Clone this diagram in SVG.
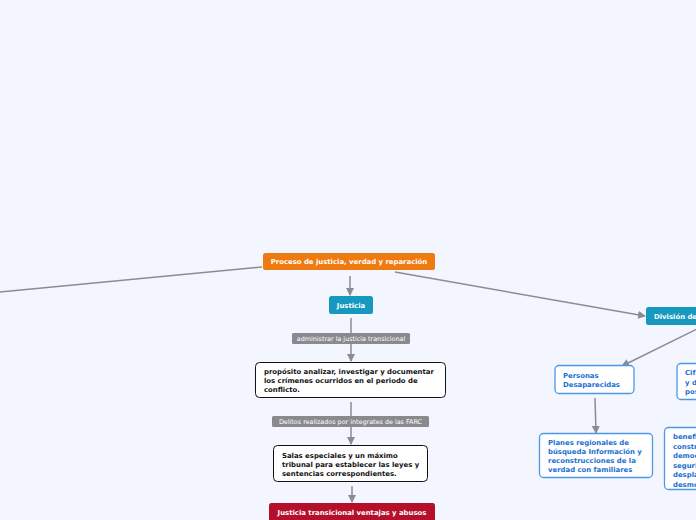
<svg xmlns="http://www.w3.org/2000/svg" width="696" height="520" viewBox="0 0 696 520">
<defs>
<marker id="arr" markerWidth="8" markerHeight="8" refX="7" refY="4" orient="auto" markerUnits="userSpaceOnUse">
<path d="M0,0 L8,4 L0,8 Z" fill="#8a8c92"/>
</marker>
<style>
.c{stroke:#8a8c92;stroke-width:1.5;fill:none}
.t{font-family:"DejaVu Sans",Verdana,sans-serif;font-weight:bold;font-size:6.9px}
.w{fill:#ffffff}
.k{fill:#111111}
.b{fill:#1a6fd1}
.lbl{font-family:"DejaVu Sans",Verdana,sans-serif;font-size:6.4px;fill:#ffffff}
.lb{fill:#8a8a8e}
.wn{fill:#ffffff;stroke:#111111;stroke-width:1}
.bn{fill:#ffffff;stroke:#4a98ea;stroke-width:1.3}
</style>
</defs>
<rect width="696" height="520" fill="#f3f6fe"/>
<g id="connectors">
<path class="c" d="M262,267 L0,292"/>
<path class="c" d="M395,272 L645,316" marker-end="url(#arr)"/>
<path class="c" d="M350,276 L350,295" marker-end="url(#arr)"/>
<path class="c" d="M351,318 L351,361" marker-end="url(#arr)"/>
<path class="c" d="M351,402 L351,444" marker-end="url(#arr)"/>
<path class="c" d="M352,486 L352,502" marker-end="url(#arr)"/>
<path class="c" d="M697,329 L622,366" marker-end="url(#arr)"/>
<path class="c" d="M595,398 L596,433" marker-end="url(#arr)"/>
</g>
<g id="lbl1"><rect class="lb" x="292" y="333" width="118" height="11" rx="1.5"/><text class="lbl" x="351" y="341" text-anchor="middle">administrar la justicia transicional</text></g>
<g id="lbl2"><rect class="lb" x="272" y="416" width="157" height="11" rx="1.5"/><text class="lbl" x="350.5" y="424" text-anchor="middle">Delitos realizados por integrates de las FARC</text></g>
<g id="n-main"><rect x="263" y="253" width="172" height="17" rx="2.5" fill="#ef7a10"/><text class="t w" x="349" y="264" text-anchor="middle">Proceso de justicia, verdad y reparación</text></g>
<g id="n-justicia"><rect x="329" y="296" width="44" height="18" rx="2.5" fill="#1799bf"/><text class="t w" x="351" y="307.5" text-anchor="middle">Justicia</text></g>
<g id="n-proposito"><rect class="wn" x="255.5" y="362.5" width="190" height="35" rx="4"/><text class="t k" x="264" y="373.5">propósito analizar, investigar y documentar</text><text class="t k" x="264" y="382.5">los crímenes ocurridos en el periodo de</text><text class="t k" x="264" y="391.5">conflicto.</text></g>
<g id="n-salas"><rect class="wn" x="273.5" y="445.5" width="154" height="36" rx="4"/><text class="t k" x="282" y="457.5">Salas especiales y un máximo</text><text class="t k" x="282" y="466.5">tribunal para establecer las leyes y</text><text class="t k" x="282" y="475.5">sentencias correspondientes.</text></g>
<g id="n-jt"><rect x="269" y="503" width="166" height="22" rx="2.5" fill="#b4102c"/><text class="t w" x="352" y="514.5" text-anchor="middle">Justicia transicional ventajas y abusos</text></g>
<g id="n-division"><rect x="646" y="307" width="70" height="18" rx="2.5" fill="#1799bf"/><text class="t w" x="654" y="318.5">División de</text></g>
<g id="n-personas"><rect class="bn" x="555" y="365.5" width="79" height="28" rx="4"/><text class="t b" x="563" y="377.5">Personas</text><text class="t b" x="563" y="387">Desaparecidas</text></g>
<g id="n-planes"><rect class="bn" x="539.5" y="433.5" width="113" height="44" rx="4"/><text class="t b" x="548" y="444.5">Planes regionales de</text><text class="t b" x="548" y="453.5">búsqueda Información y</text><text class="t b" x="548" y="462.5">reconstrucciones de la</text><text class="t b" x="548" y="471.5">verdad con familiares</text></g>
<g id="n-cif"><rect class="bn" x="677" y="363.5" width="40" height="36" rx="4"/><text class="t b" x="685" y="375">Cifras</text><text class="t b" x="685" y="384.5">y datos</text><text class="t b" x="685" y="394">posibles</text></g>
<g id="n-benef"><rect class="bn" x="664.5" y="427.5" width="52" height="62" rx="4"/><text class="t b" x="673" y="439">beneficios</text><text class="t b" x="673" y="448.5">construcción</text><text class="t b" x="673" y="458">democracia</text><text class="t b" x="673" y="467.5">seguridad</text><text class="t b" x="673" y="477">desplazados</text><text class="t b" x="673" y="486.5">desmovilizados</text></g>
</svg>
